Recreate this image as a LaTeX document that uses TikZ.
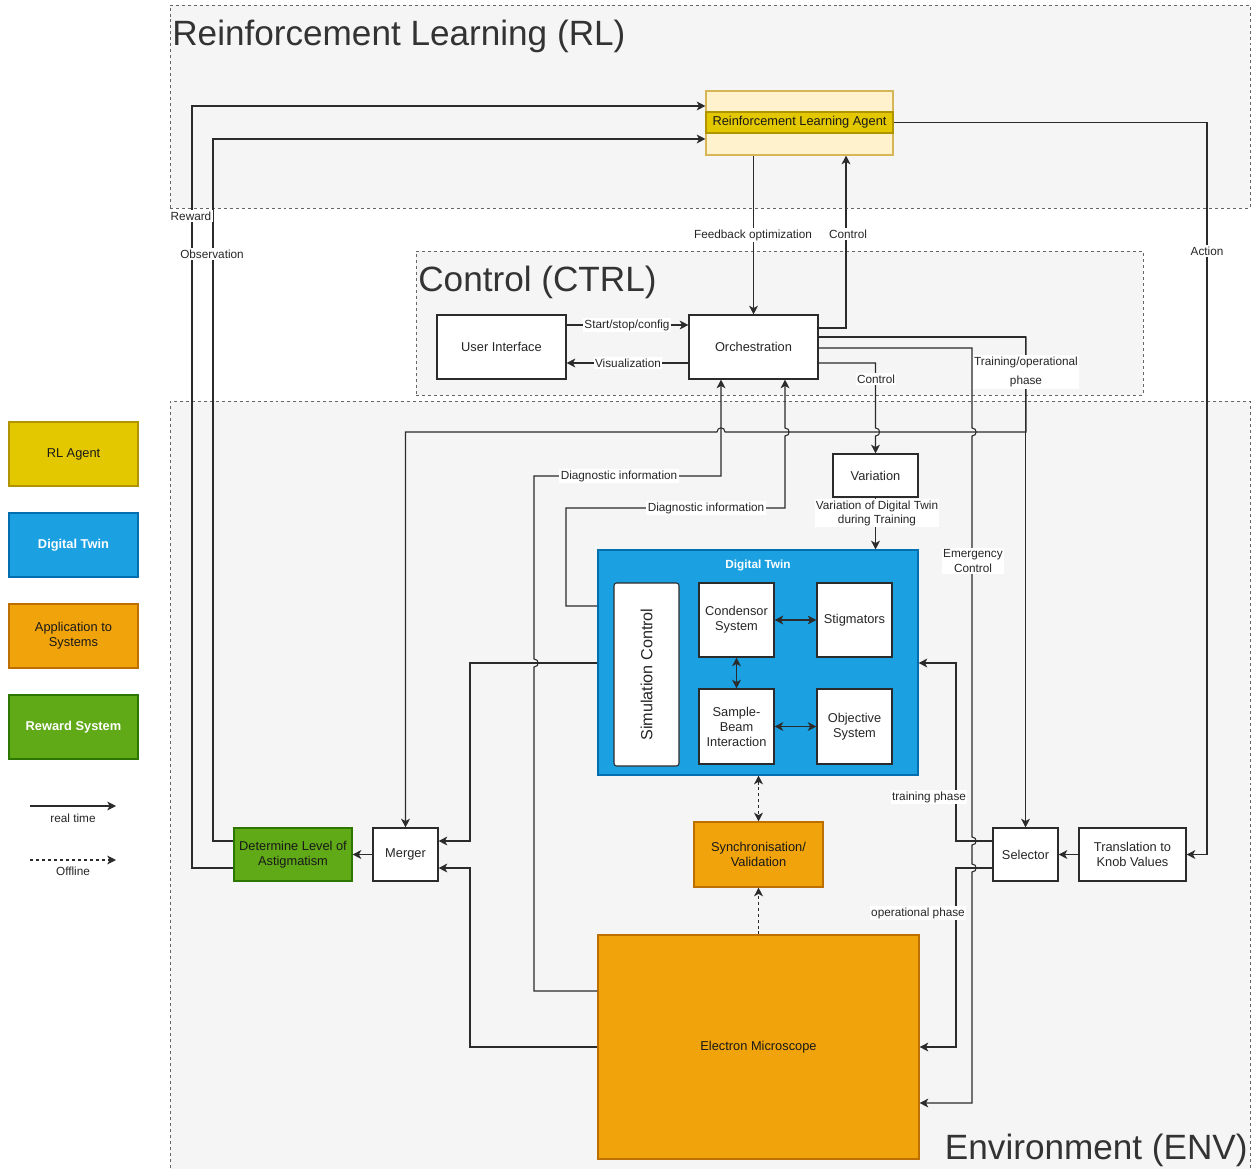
\documentclass[tikz,border=0pt]{standalone}
\usepackage{fontspec}
\setmainfont{Liberation Sans}
\usetikzlibrary{arrows.meta}
\definecolor{contfill}{HTML}{F5F5F5}
\definecolor{contdraw}{HTML}{666666}
\definecolor{titlecol}{HTML}{333333}
\definecolor{agentfill}{HTML}{FFF2CC}
\definecolor{agentdraw}{HTML}{D6B656}
\definecolor{yelfill}{HTML}{E3C800}
\definecolor{yeldraw}{HTML}{B09500}
\definecolor{dtfill}{HTML}{1BA1E2}
\definecolor{dtdraw}{HTML}{006EAF}
\definecolor{orfill}{HTML}{F0A30A}
\definecolor{ordraw}{HTML}{BD7000}
\definecolor{grfill}{HTML}{60A917}
\definecolor{grdraw}{HTML}{2D7600}
\definecolor{linecol}{HTML}{2B2B2B}
\newcommand\myNodeFont{\fontsize{7.3}{8.5}\selectfont}
\newcommand\myLblFont{\fontsize{6.7}{8}\selectfont}
\newcommand\myTitleFont{\fontsize{20}{24}\selectfont}
\newcommand\mySimFont{\fontsize{9.2}{11}\selectfont}
% \mkbox[style]{name}{x1}{y1}{x2}{y2}{text}
\newcommand\mkbox[7][]{\node[#1, minimum width={(#5-#3)*0.02cm}, minimum height={(#6-#4)*0.02cm}] (#2) at ({(#3+#5)/2},{(#4+#6)/2}) {#7};}
\begin{document}
\begin{tikzpicture}[x=0.02cm,y=-0.02cm,
  cont/.style={draw=contdraw, fill=contfill, line width=0.5pt, dash pattern=on 1.7pt off 1.7pt, inner sep=0pt},
  ctitle/.style={font=\myTitleFont, text=titlecol, inner sep=0pt},
  box/.style={draw=linecol, line width=0.6pt, fill=white, inner sep=0pt, align=center, font=\myNodeFont, text=black!85},
  dtbox/.style={box, draw=dtdraw, fill=dtfill},
  orbox/.style={box, draw=ordraw, fill=orfill, text=black!90},
  grbox/.style={box, draw=grdraw, fill=grfill, text=black!90},
  yelbox/.style={box, draw=yeldraw, fill=yelfill, text=black!90},
  lbl/.style={fill=white, inner sep=0.8pt, font=\myLblFont, text=black!85, align=center},
  arr/.style={draw=linecol, line width=0.6pt, -{Stealth[length=5pt,width=5pt,inset=1.4pt]}},
  arrb/.style={draw=linecol, line width=0.6pt, {Stealth[length=5pt,width=5pt,inset=1.4pt]}-{Stealth[length=5pt,width=5pt,inset=1.4pt]}},
  dsh/.style={dash pattern=on 1.7pt off 1.7pt}
]
\useasboundingbox (0,0) rectangle (1255,1169);
\fill[white] (0,0) rectangle (1255,1169);

% containers
\mkbox[cont]{rl}{170}{5}{1250}{208}{}
\mkbox[cont]{ctrl}{416}{251}{1143}{395}{}
\mkbox[cont]{env}{170}{401}{1250}{1175}{}
\node[ctitle, anchor=west] (rlt) at (172,36) {Reinforcement Learning (RL)};
\node[ctitle, anchor=west] (ctrlt) at (418,282) {Control (CTRL)};
\node[ctitle, anchor=east] (envt) at (1248,1150) {Environment (ENV)};

% RL agent
\mkbox[box, draw=agentdraw, fill=agentfill]{agent}{706}{91}{893}{155}{}
\mkbox[yelbox]{agentband}{706}{112}{893}{133}{Reinforcement Learning Agent}

% control
\mkbox[box]{ui}{437}{315}{566}{379}{User Interface}
\mkbox[box]{orch}{689}{315}{818}{379}{Orchestration}

% environment
\mkbox[box]{var}{833}{454}{918}{497}{Variation}
\mkbox[dtbox]{dt}{598}{550}{918}{775}{}
\node[font=\myLblFont\bfseries, text=white, inner sep=0pt] (dtt) at (758,565) {Digital Twin};
\mkbox[box, rounded corners=1.5pt]{simc}{614}{583}{679}{766}{}
\node[rotate=90, font=\mySimFont, text=black!85, inner sep=0pt] (simct) at (simc.center) {Simulation Control};
\mkbox[box]{cond}{699}{583}{774}{657}{Condensor\\System}
\mkbox[box]{stig}{817}{583}{892}{657}{Stigmators}
\mkbox[box]{samp}{699}{689}{774}{764}{Sample-\\Beam\\Interaction}
\mkbox[box]{obj}{817}{689}{892}{764}{Objective\\System}
\mkbox[orbox]{sync}{694}{822}{823}{887}{Synchronisation/\\Validation}
\mkbox[orbox]{em}{598}{935}{919}{1159}{Electron Microscope}
\mkbox[box]{merger}{373}{828}{438}{881}{Merger}
\mkbox[grbox]{det}{234}{828}{352}{881}{Determine Level of\\Astigmatism}
\mkbox[box]{sel}{993}{828}{1058}{881}{Selector}
\mkbox[box]{trans}{1079}{828}{1186}{881}{Translation to\\Knob Values}

% legend
\mkbox[yelbox]{lg1}{9}{422}{138}{486}{RL Agent}
\mkbox[dtbox, text=white, font=\myNodeFont\bfseries]{lg2}{9}{513}{138}{577}{Digital Twin}
\mkbox[orbox]{lg3}{9}{604}{138}{668}{Application to\\Systems}
\mkbox[grbox, text=white, font=\myNodeFont\bfseries]{lg4}{9}{695}{138}{759}{Reward System}
\coordinate (lgA1) at (30,806);
\coordinate (lgA2) at (116,806);
\coordinate (lgB1) at (30,860);
\coordinate (lgB2) at (116,860);
\draw[arr] (lgA1) -- (lgA2);
\draw[arr, dsh] (lgB1) -- (lgB2);
\node[lbl] (lgAt) at (73,818) {real time};
\node[lbl] (lgBt) at (73,871) {Offline};

% connectors
\draw[arr] (det.west |- 0,868) -| (192,500) |- (agent.west |- 0,106);
\draw[arr] (det.west |- 0,841) -| (213,500) |- (agent.west |- 0,139);
\draw[arr] (agentband.east) -| (1207,500) |- (trans.east);
\draw[arr] (agent.south -| orch.north) -- (orch.north);
\draw[arr] (orch.east |- 0,328) -| (agent.south -| 846,0);
\draw[arr] (ui.east |- 0,325) -- (orch.west |- 0,325);
\draw[arr] (orch.west |- 0,363) -- (ui.east |- 0,363);
\draw[arr] (orch.east |- 0,337) -| (sel.north);
\draw[arr] (orch.east |- 0,337) -- (1026,337) -- (1026,432) -- (725,432) .. controls (725,426.5) and (717,426.5) .. (717,432) -- (merger.north |- 0,432) -- (merger.north);
\draw[arr] (orch.east |- 0,348) -- (972,348) -- (972,428) .. controls (977.5,428) and (977.5,436) .. (972,436) -- (972,837) .. controls (977.5,837) and (977.5,845) .. (972,845) -- (972,864) .. controls (977.5,864) and (977.5,872) .. (972,872) -- (972,1103) -- (em.east |- 0,1103);
\draw[arr] (orch.east |- 0,363) -- (var.north |- 0,363) -- (var.north |- 0,428) .. controls (881,428) and (881,436) .. (var.north |- 0,436) -- (var.north);
\draw[arr] (var.south) -- (var.south |- dt.north);
\draw[arr] (em.west |- 0,991) -- (534,991) -- (534,667) .. controls (539.5,667) and (539.5,659) .. (534,659) -- (534,476) -- (721,476) -- (orch.south -| 721,0);
\draw[arr] (dt.west |- 0,606) -- (566,606) -- (566,508) -- (785,508) -- (785,436) .. controls (790.5,436) and (790.5,428) .. (785,428) -- (orch.south -| 785,0);
\draw[arr] (dt.west |- 0,663) -| (470,841) -- (merger.east |- 0,841);
\draw[arr] (em.west |- 0,1047) -| (470,868) -- (merger.east |- 0,868);
\draw[arr] (merger.west) -- (det.east);
\draw[arr] (trans.west) -- (sel.east);
\draw[arr] (sel.west |- 0,841) -| (956,663) -- (dt.east |- 0,663);
\draw[arr] (sel.west |- 0,868) -| (956,1047) -- (em.east |- 0,1047);
\draw[arrb, dsh] (dt.south -| sync.north) -- (sync.north);
\draw[arr, dsh] (em.north -| sync.south) -- (sync.south);
\draw[arrb] (cond.east) -- (stig.west);
\draw[arrb] (cond.south) -- (samp.north);
\draw[arrb] (samp.east) -- (obj.west);

% labels
\node[lbl] (l1) at (191,216) {Reward};
\node[lbl] (l2) at (212,254) {Observation};
\node[lbl] (l3) at (753,235) {Feedback optimization};
\node[lbl] (l4) at (848,234) {Control};
\node[lbl] (l5) at (1207,251) {Action};
\node[lbl] (l6) at (627,325) {Start/stop/config};
\node[lbl] (l7) at (628,363) {Visualization};
\node[lbl, align=center] (l8) at (1026,372) {Training/operational\\[3pt]phase};
\node[lbl] (l9) at (876,379) {Control};
\node[lbl] (l10) at (619,476) {Diagnostic information};
\node[lbl] (l11) at (706,508) {Diagnostic information};
\node[lbl] (l12) at (877,513) {Variation of Digital Twin\\during Training};
\node[lbl] (l13) at (973,561) {Emergency\\Control};
\node[lbl] (l14) at (929,797) {training phase};
\node[lbl] (l15) at (918,913) {operational phase};
\end{tikzpicture}
\end{document}
